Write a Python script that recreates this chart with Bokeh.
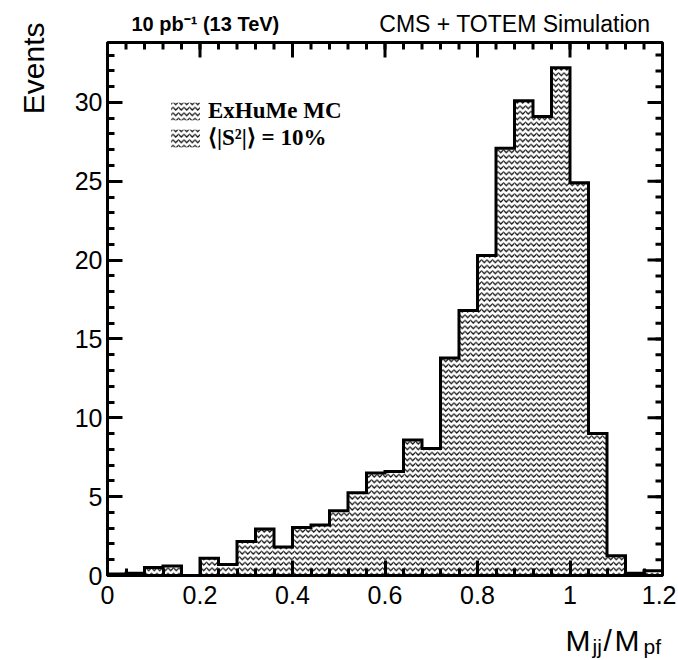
import math
from bokeh.plotting import figure
from bokeh.layouts import row, column
from bokeh.models import (Range1d, LinearAxis, FixedTicker, Label, Legend, LegendItem,
                          ColumnDataSource)
from bokeh.embed import file_html
from bokeh.resources import INLINE

# ---------------- data ----------------
bin_edges = [0.00, 0.04, 0.08, 0.12, 0.16, 0.20, 0.24, 0.28, 0.32, 0.36, 0.40,
             0.44, 0.48, 0.52, 0.56, 0.60, 0.64, 0.68, 0.72, 0.76, 0.80,
             0.84, 0.88, 0.92, 0.96, 1.00, 1.04, 1.08, 1.12, 1.16, 1.20]
events = [0.1, 0.15, 0.5, 0.6, 0.0, 1.1, 0.7, 2.15, 2.95, 1.8,
          3.05, 3.2, 4.1, 5.25, 6.5, 6.6, 8.6, 8.05, 13.8, 16.8,
          20.3, 27.1, 30.1, 29.1, 32.2, 24.9, 9.0, 1.25, 0.15, 0.3]
x_ticks = [0.0, 0.2, 0.4, 0.6, 0.8, 1.0, 1.2]
x_tick_labels = ["0", "0.2", "0.4", "0.6", "0.8", "1", "1.2"]
x_minor = [round(0.04 * i, 2) for i in range(31)]
y_ticks = [0, 5, 10, 15, 20, 25, 30]
y_tick_labels = ["0", "5", "10", "15", "20", "25", "30"]
y_minor = list(range(0, 34))
legend_labels = ["ExHuMe MC", "\u27e8|S\u00b2|\u27e9 = 10%"]
lumi_text = "10 pb\u207b\u00b9 (13 TeV)"
exp_text = "CMS + TOTEM Simulation"
y_title = "Events"
x_title_parts = ["M", "jj", "/", "M", "pf"]

X_MIN, X_MAX, Y_MIN, Y_MAX = 0.0, 1.2, 0.0, 33.8

# ---------------- layout (page px) ----------------
PAGE_W = 676
LEFT_W = 52          # strip holding the y title
TOP_H = 38           # strip holding the header texts
MAIN_H = 574         # main figure height (page y 38 .. 612)
BOT_H = 46           # strip holding the x title (page y 612 .. 658)
FL, FR, FT, FB = 107, 662, 42, 575   # frame box in page px
FONT = "Liberation Sans"


def strip(x0, y0, w, h):
    """a text-only figure covering page box x0..x0+w, y0..y0+h; data = page px"""
    f = figure(width=w, height=h, output_backend="svg", toolbar_location=None,
               x_range=Range1d(x0, x0 + w), y_range=Range1d(y0 + h, y0),
               min_border=0, min_border_left=0, min_border_right=0,
               min_border_top=0, min_border_bottom=0,
               x_axis_type=None, y_axis_type=None)
    f.grid.visible = False
    f.outline_line_color = None
    f.background_fill_color = "white"
    f.border_fill_color = "white"
    return f


def put(f, px, py, text, size, **kw):
    f.add_layout(Label(x=px, y=py, text=text, text_font=FONT,
                       text_font_size=size, text_color="black",
                       text_baseline=kw.pop("text_baseline", "alphabetic"), **kw))


# ---- main figure ----
main_w = PAGE_W - LEFT_W
p = figure(width=main_w, height=MAIN_H, output_backend="svg", toolbar_location=None,
           x_range=Range1d(X_MIN, X_MAX), y_range=Range1d(Y_MIN, Y_MAX),
           min_border_left=FL - LEFT_W, min_border_right=PAGE_W - FR,
           min_border_top=FT - TOP_H, min_border_bottom=TOP_H + MAIN_H - FB,
           x_axis_type=None, y_axis_type=None)
p.grid.visible = False
p.background_fill_color = "white"
p.border_fill_color = "white"
p.outline_line_color = "black"
p.outline_line_width = 3

src = ColumnDataSource(dict(left=bin_edges[:-1], right=bin_edges[1:],
                            top=events, bottom=[0] * len(events)))
r = p.quad(left="left", right="right", top="top", bottom="bottom", source=src,
           fill_color=None, line_color=None,
           hatch_pattern="horizontal_wave", hatch_color="black",
           hatch_scale=5.5, hatch_weight=1.1)

# step outline of the histogram
sx_pts, sy_pts = [bin_edges[0]], [0]
for i, v in enumerate(events):
    sx_pts += [bin_edges[i], bin_edges[i + 1]]
    sy_pts += [v, v]
sx_pts.append(bin_edges[-1])
sy_pts.append(0)
p.line(sx_pts, sy_pts, line_color="black", line_width=3, line_join="miter")


def style_axis(ax, standoff):
    ax.axis_line_width = 3
    ax.major_tick_line_width = 3
    ax.minor_tick_line_width = 3
    ax.major_tick_in = 15
    ax.major_tick_out = 0
    ax.minor_tick_in = 7
    ax.minor_tick_out = 0
    ax.major_label_standoff = standoff
    ax.major_label_text_font = FONT
    ax.major_label_text_font_size = "25px"
    ax.major_label_text_color = "black"


xb = LinearAxis(ticker=FixedTicker(ticks=x_ticks, minor_ticks=x_minor),
                major_label_overrides=dict(zip(x_ticks, x_tick_labels)))
style_axis(xb, 10)
p.add_layout(xb, "below")
yl = LinearAxis(ticker=FixedTicker(ticks=y_ticks, minor_ticks=y_minor),
                major_label_overrides=dict(zip(y_ticks, y_tick_labels)))
style_axis(yl, 5)
p.add_layout(yl, "left")

# mirrored ticks on top and right edges
p.ray(x=x_minor, y=[Y_MAX] * len(x_minor), length=7, length_units="screen",
      angle=-math.pi / 2, line_color="black", line_width=3)
p.ray(x=x_ticks, y=[Y_MAX] * len(x_ticks), length=15, length_units="screen",
      angle=-math.pi / 2, line_color="black", line_width=3)
p.ray(x=[X_MAX] * len(y_minor), y=y_minor, length=7, length_units="screen",
      angle=math.pi, line_color="black", line_width=3)
p.ray(x=[X_MAX] * len(y_ticks), y=y_ticks, length=15, length_units="screen",
      angle=math.pi, line_color="black", line_width=3)

# legend
legend = Legend(items=[LegendItem(label=legend_labels[0], renderers=[r]),
                       LegendItem(label=legend_labels[1], renderers=[r])],
                location=(167 - FL, FB - 151), orientation="vertical",
                glyph_width=36, glyph_height=22, label_height=22, spacing=0,
                padding=0, margin=0, label_standoff=5,
                label_text_font="Liberation Serif", label_text_font_style="bold",
                label_text_font_size="23px", label_text_color="black",
                border_line_color=None, background_fill_alpha=0)
p.add_layout(legend, "center")

# ---- header strip ----
top = strip(LEFT_W, 0, main_w, TOP_H)
put(top, 131, 23, lumi_text, "20px", text_font_style="bold")
put(top, 650, 23, exp_text, "23px", text_align="right")

# ---- left strip (y title) ----
left = strip(0, 0, LEFT_W, TOP_H + MAIN_H)
put(left, 33, 22, y_title, "30px", angle=math.pi / 2, text_align="right",
    text_baseline="middle")

# ---- bottom strip (x title) ----
bot = strip(0, TOP_H + MAIN_H, PAGE_W, BOT_H)
put(bot, 565, 640, x_title_parts[0], "30px")
put(bot, 592, 646, x_title_parts[1], "21px")
put(bot, 603, 640, x_title_parts[2], "30px")
put(bot, 614, 640, x_title_parts[3], "30px")
put(bot, 643, 646, x_title_parts[4], "21px")

layout = column(
    row(column(left), column(row(top), row(p))),
    row(bot),
)
open("out.html", "w").write(file_html(layout, INLINE))
